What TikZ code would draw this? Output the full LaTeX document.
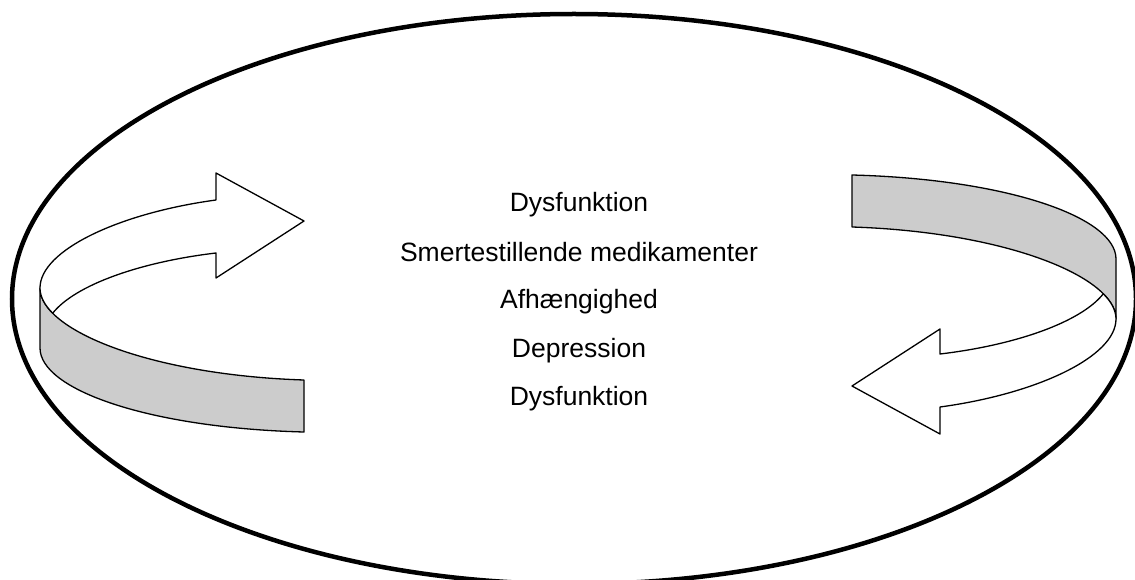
\documentclass[tikz,border=0pt]{standalone}
\usepackage{fontspec}
\setmainfont{Liberation Sans}
\usepackage{tikz}
\definecolor{bandgray}{RGB}{204,204,204}

\begin{document}
\begin{tikzpicture}[x=1pt, y=-1pt,
    ribbon/.style={draw=black, line width=1.3pt, line join=round},
    label/.style={anchor=base, font=\fontsize{26.5}{30}\selectfont}]
    \useasboundingbox (0, 0) rectangle (1135, 580);
    \clip (0, 0) rectangle (1135, 580);

    % Outer ellipse
    \draw[line width=4.5pt] (574, 299) ellipse [x radius=562, y radius=285];

    % Left arrow
    \begin{scope}
        \fill[bandgray] (40, 288) -- (40, 348) .. controls (40, 390) and (150, 428) .. (304, 432) -- (304, 380) .. controls (150, 375) and (40, 330) .. (40, 288) -- cycle;
        \draw[ribbon] (40, 288) -- (40, 348) .. controls (40, 390) and (150, 428) .. (304, 432) -- (304, 380) .. controls (150, 375) and (40, 330) .. (40, 288) -- cycle;
        \draw[ribbon, fill=white] (216, 200) -- (216, 173) -- (304, 221) -- (216, 278) -- (216, 253) .. controls (140, 262) and (75, 285) .. (52.7, 313.2) .. controls (44.4, 304.9) and (40, 296.4) .. (40, 288) .. controls (40, 250) and (120, 213) .. (216, 200) -- cycle;
    \end{scope}

    % Right arrow
    \begin{scope}[rotate around={180:(578, 303.5)}]
        \fill[bandgray] (40, 288) -- (40, 348) .. controls (40, 390) and (150, 428) .. (304, 432) -- (304, 380) .. controls (150, 375) and (40, 330) .. (40, 288) -- cycle;
        \draw[ribbon] (40, 288) -- (40, 348) .. controls (40, 390) and (150, 428) .. (304, 432) -- (304, 380) .. controls (150, 375) and (40, 330) .. (40, 288) -- cycle;
        \draw[ribbon, fill=white] (216, 200) -- (216, 173) -- (304, 221) -- (216, 278) -- (216, 253) .. controls (140, 262) and (75, 285) .. (52.7, 313.2) .. controls (44.4, 304.9) and (40, 296.4) .. (40, 288) .. controls (40, 250) and (120, 213) .. (216, 200) -- cycle;
    \end{scope}

    % Text
    \node[label] (dys1) at (579, 212) {Dysfunktion};
    \node[label] (smerte) at (579, 261) {Smertestillende medikamenter};
    \node[label] (afh) at (579, 308) {Afhængighed};
    \node[label] (depr) at (579, 357) {Depression};
    \node[label] (dys2) at (579, 405) {Dysfunktion};
\end{tikzpicture}
\end{document}
